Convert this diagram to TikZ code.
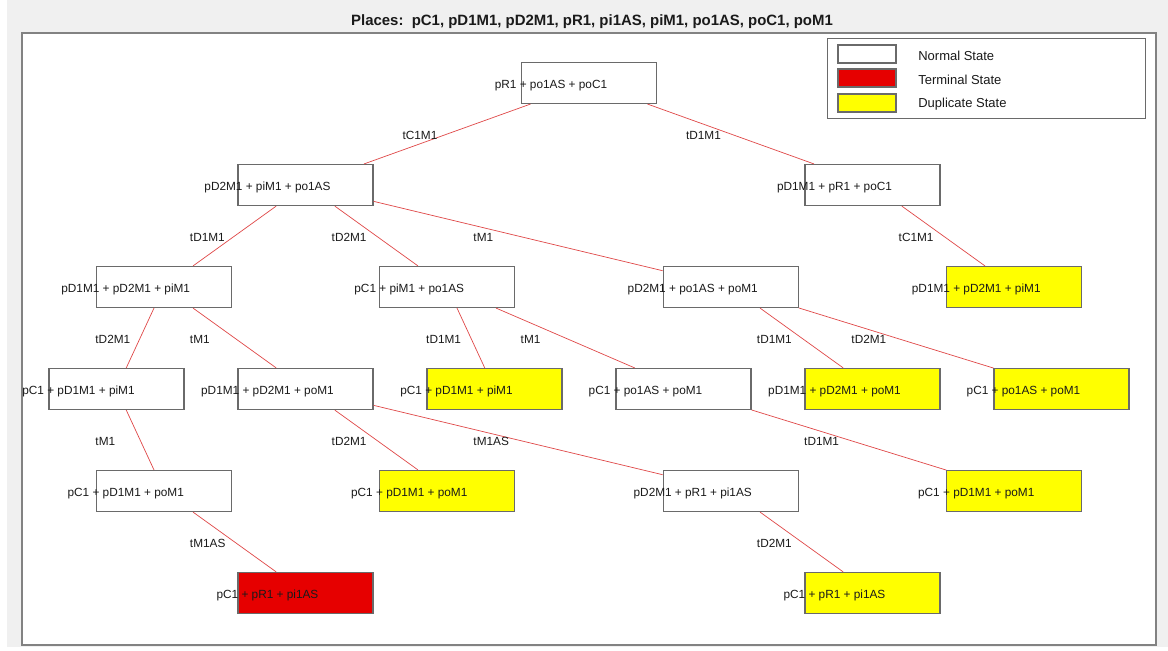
\documentclass[tikz,border=0pt]{standalone}
\usepackage{fontspec}
\setmainfont{Liberation Sans}
\usepackage{xcolor}
\usepackage{tikz}
\definecolor{Ink}      {HTML}{1A1A1A}
\definecolor{FigGrey}  {HTML}{F0F0F0}
\definecolor{AxisGrey} {HTML}{828282}
\definecolor{BoxGrey}  {HTML}{6A6A6A}
\definecolor{EdgeRed}  {HTML}{E04848}
\definecolor{TermRed}  {HTML}{E60000}
\definecolor{DupYellow}{HTML}{FFFF00}

\begin{document}
\begin{tikzpicture}[x=0.025cm, y=-0.025cm,
  font=\fontsize{8.4pt}{10pt}\selectfont, text=Ink,
  state/.style={draw=BoxGrey, line width=0.8pt, fill=white,
                minimum width=3.375cm, minimum height=1.025cm, inner sep=0pt},
  terminal/.style={state, fill=TermRed},
  duplicate/.style={state, fill=DupYellow},
  stext/.style={xshift=-0.95cm, yshift=-0.07cm, inner sep=0pt, text=Ink},
  trans/.style={draw=EdgeRed, line width=0.5pt},
  tlabel/.style={midway, anchor=west, inner sep=0pt, xshift=-1.125cm, yshift=-0.03cm, text=Ink},
  legtext/.style={anchor=west, inner sep=0pt, font=\fontsize{9.25pt}{11pt}\selectfont}]

  % ===== FIGURE + AXES =====
  \useasboundingbox (0,0) rectangle (1168,650);
  \fill[white] (0,0) rectangle (1168,650);
  \fill[FigGrey] (7,0) rectangle (1168,647);
  \draw[AxisGrey, line width=1pt, fill=white] (22,33) rectangle (1156,645);
  \node[font=\fontsize{10.63pt}{12pt}\selectfont\bfseries] (title) at (592,22)
        {Places:\ \ pC1, pD1M1, pD2M1, pR1, pi1AS, piM1, po1AS, poC1, poM1};

  % ===== LEGEND =====
  \draw[BoxGrey, line width=0.6pt, fill=white] (827,38) rectangle (1145,118);
  \node[state, minimum width=1.45cm, minimum height=0.45cm] (legNormal) at (867,54) {};
  \node[terminal, minimum width=1.45cm, minimum height=0.45cm] (legTerm) at (867,78) {};
  \node[duplicate, minimum width=1.45cm, minimum height=0.45cm] (legDup) at (867,103) {};
  \node[legtext] (txtNormal) at (918,56) {Normal State};
  \node[legtext] (txtTerm) at (918,80) {Terminal State};
  \node[legtext] (txtDup) at (918,104) {Duplicate State};

  % ===== STATES =====
  % level 0
  \node[state, label={[stext]center:pR1 + po1AS + poC1}] (s0) at (589,83) {};
  % level 1
  \node[state, label={[stext]center:pD2M1 + piM1 + po1AS}] (s1a) at (305.5,185) {};
  \node[state, label={[stext]center:pD1M1 + pR1 + poC1}] (s1b) at (872.5,185) {};
  % level 2
  \node[state, label={[stext]center:pD1M1 + pD2M1 + piM1}] (s2a) at (163.75,287) {};
  \node[state, label={[stext]center:pC1 + piM1 + po1AS}] (s2b) at (447.25,287) {};
  \node[state, label={[stext]center:pD2M1 + po1AS + poM1}] (s2c) at (730.75,287) {};
  \node[duplicate, label={[stext]center:pD1M1 + pD2M1 + piM1}] (s2d) at (1014.25,287) {};
  % level 3
  \node[state, label={[stext]center:pC1 + pD1M1 + piM1}] (s3a) at (116.5,389) {};
  \node[state, label={[stext]center:pD1M1 + pD2M1 + poM1}] (s3b) at (305.5,389) {};
  \node[duplicate, label={[stext]center:pC1 + pD1M1 + piM1}] (s3c) at (494.5,389) {};
  \node[state, label={[stext]center:pC1 + po1AS + poM1}] (s3d) at (683.5,389) {};
  \node[duplicate, label={[stext]center:pD1M1 + pD2M1 + poM1}] (s3e) at (872.5,389) {};
  \node[duplicate, label={[stext]center:pC1 + po1AS + poM1}] (s3f) at (1061.5,389) {};
  % level 4
  \node[state, label={[stext]center:pC1 + pD1M1 + poM1}] (s4a) at (163.75,491) {};
  \node[duplicate, label={[stext]center:pC1 + pD1M1 + poM1}] (s4b) at (447.25,491) {};
  \node[state, label={[stext]center:pD2M1 + pR1 + pi1AS}] (s4c) at (730.75,491) {};
  \node[duplicate, label={[stext]center:pC1 + pD1M1 + poM1}] (s4d) at (1014.25,491) {};
  % level 5
  \node[terminal, label={[stext]center:pC1 + pR1 + pi1AS}] (s5a) at (305.5,593) {};
  \node[duplicate, label={[stext]center:pC1 + pR1 + pi1AS}] (s5b) at (872.5,593) {};

  % ===== TRANSITIONS =====
  \draw[trans] (s0) -- node[tlabel] {tC1M1} (s1a);
  \draw[trans] (s0) -- node[tlabel] {tD1M1} (s1b);
  \draw[trans] (s1a) -- node[tlabel] {tD1M1} (s2a);
  \draw[trans] (s1a) -- node[tlabel] {tD2M1} (s2b);
  \draw[trans] (s1a) -- node[tlabel] {tM1} (s2c);
  \draw[trans] (s1b) -- node[tlabel] {tC1M1} (s2d);
  \draw[trans] (s2a) -- node[tlabel] {tD2M1} (s3a);
  \draw[trans] (s2a) -- node[tlabel] {tM1} (s3b);
  \draw[trans] (s2b) -- node[tlabel] {tD1M1} (s3c);
  \draw[trans] (s2b) -- node[tlabel] {tM1} (s3d);
  \draw[trans] (s2c) -- node[tlabel] {tD1M1} (s3e);
  \draw[trans] (s2c) -- node[tlabel] {tD2M1} (s3f);
  \draw[trans] (s3a) -- node[tlabel] {tM1} (s4a);
  \draw[trans] (s3b) -- node[tlabel] {tD2M1} (s4b);
  \draw[trans] (s3b) -- node[tlabel] {tM1AS} (s4c);
  \draw[trans] (s3d) -- node[tlabel] {tD1M1} (s4d);
  \draw[trans] (s4a) -- node[tlabel] {tM1AS} (s5a);
  \draw[trans] (s4c) -- node[tlabel] {tD2M1} (s5b);

\end{tikzpicture}
\end{document}
